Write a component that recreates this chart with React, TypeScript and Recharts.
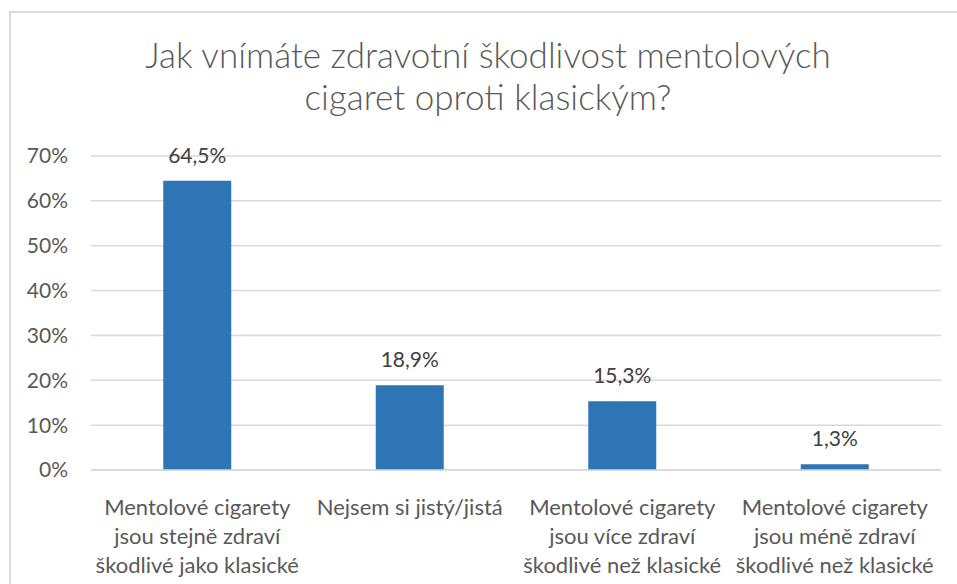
import React from "react";
import { BarChart, Bar, XAxis, YAxis, CartesianGrid, LabelList } from "recharts";

const categories = [
  "Mentolové cigarety\njsou stejně zdraví\nškodlivé jako klasické",
  "Nejsem si jistý/jistá",
  "Mentolové cigarety\njsou více zdraví\nškodlivé než klasické",
  "Mentolové cigarety\njsou méně zdraví\nškodlivé než klasické",
];
const shares = [64.5, 18.9, 15.3, 1.3];
const yTicks = [0, 10, 20, 30, 40, 50, 60, 70];
const titleLines = ["Jak vnímáte zdravotní škodlivost mentolových", "cigaret oproti klasickým?"];

const data = categories.map((c, i) => ({ name: c, value: shares[i] }));

const FONT = "Lato, 'Open Sans', sans-serif";

const CatTick = (props: any) => {
  const { x, y, payload } = props;
  const lines = String(payload.value).split("\n");
  return (
    <g transform={`translate(${x},${y})`}>
      {lines.map((l, i) => (
        <text
          key={i}
          x={0}
          y={37 + i * 29}
          textAnchor="middle"
          fill="#595959"
          fontSize={22}
          fontFamily={FONT}
        >
          {l}
        </text>
      ))}
    </g>
  );
};

const ValueLabel = (props: any) => {
  const { x, y, width, value } = props;
  return (
    <text
      x={x + width / 2}
      y={y - 18}
      textAnchor="middle"
      fill="#404040"
      fontSize={21}
      fontFamily={FONT}
    >
      {String(value).replace(".", ",") + "%"}
    </text>
  );
};

export default function App() {
  return (
    <div style={{ position: "absolute", left: 0, top: 0, width: 957, height: 584, overflow: "hidden", background: "#fff" }}>
      <div
        style={{
          position: "absolute",
          left: 9,
          top: 11,
          width: 1000,
          height: 700,
          border: "2px solid #d9d9d9",
          boxSizing: "border-box",
        }}
      />
      <div
        style={{
          position: "absolute",
          left: 0,
          top: 33,
          width: 976,
          textAlign: "center",
          fontFamily: FONT,
          fontWeight: 300,
          fontSize: 35,
          lineHeight: "42px",
          color: "#595959",
        }}
      >
        {titleLines.map((t, i) => (
          <div key={i}>{t}</div>
        ))}
      </div>
      <div style={{ position: "absolute", left: 0, top: 0 }}>
        <BarChart
          width={957}
          height={584}
          data={data}
          margin={{ top: 156, right: 16, bottom: 0, left: 0 }}
          barCategoryGap="34%"
        >
          <CartesianGrid vertical={false} stroke="#d9d9d9" strokeWidth={1.5} />
          <XAxis
            dataKey="name"
            axisLine={{ stroke: "#d9d9d9", strokeWidth: 1.5 }}
            tickLine={false}
            interval={0}
            tick={<CatTick />}
            height={114}
          />
          <YAxis
            domain={[0, 70]}
            ticks={yTicks}
            interval={0}
            width={91}
            axisLine={false}
            tickLine={false}
            tickSize={0}
            tickMargin={23}
            tickFormatter={(v: number) => `${v}%`}
            tick={{ fill: "#595959", fontSize: 21, fontFamily: FONT }}
          />
          <Bar dataKey="value" fill="#2e75b6" isAnimationActive={false}>
            <LabelList dataKey="value" content={<ValueLabel />} />
          </Bar>
        </BarChart>
      </div>
    </div>
  );
}
